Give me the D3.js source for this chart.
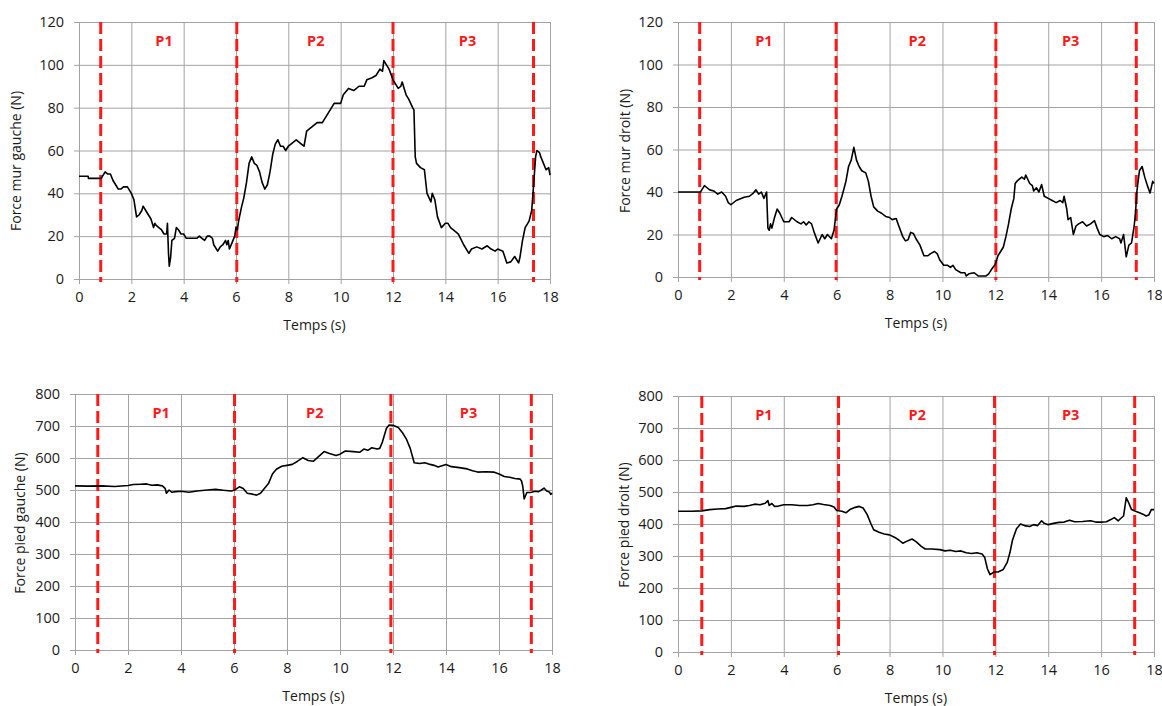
<!DOCTYPE html>
<html>
<head>
<meta charset="utf-8">
<script src="https://cdn.jsdelivr.net/npm/d3@7"></script>
<style>
  body { margin: 0; background: #fff; }
  svg { display: block; font-family: "Open Sans", sans-serif; }
</style>
</head>
<body>
<div id="chart"></div>
<script>
var W = 1162, H = 706;

// values: [time (s), force (N)]
var murGauche = [[0,48],[0.35,48],[0.36,47],[0.85,47],[0.9,48],[1.0,50],[1.1,49],[1.2,49],[1.3,46],[1.4,44],[1.5,42],[1.6,42],[1.7,43],[1.85,43],[2.0,40],[2.1,37],[2.2,29],[2.3,30],[2.4,32],[2.45,34],[2.55,32],[2.65,30],[2.75,28],[2.85,24],[2.9,26],[2.95,25],[3.05,24],[3.15,23],[3.25,21],[3.35,21],[3.38,26],[3.42,12],[3.45,6],[3.5,10],[3.55,18],[3.65,19],[3.72,24],[3.8,23],[3.9,21],[4.0,21],[4.1,19],[4.5,19],[4.6,20],[4.7,19],[4.8,18],[4.9,20],[5.0,20],[5.1,19],[5.15,16],[5.3,13],[5.4,15],[5.5,16],[5.6,18],[5.65,16],[5.7,18],[5.75,14],[5.85,17],[5.95,20],[6.0,24],[6.05,23],[6.1,27],[6.2,33],[6.3,38],[6.4,45],[6.5,54],[6.6,57],[6.7,54],[6.8,53],[6.9,50],[7.0,45],[7.1,42],[7.2,44],[7.3,50],[7.4,58],[7.5,63],[7.6,65],[7.7,62],[7.8,62],[7.9,60],[8.0,62],[8.1,63],[8.3,65],[8.5,63],[8.6,62],[8.7,69],[8.9,71],[9.1,73],[9.3,73],[9.4,75],[9.6,79],[9.75,82],[10.0,82],[10.1,86],[10.3,89],[10.5,88],[10.7,90],[10.9,90],[11.0,93],[11.2,94],[11.35,95],[11.5,98],[11.6,97],[11.65,102],[11.75,100],[11.85,98],[12.0,93],[12.1,91],[12.2,89],[12.3,90],[12.35,92],[12.5,86],[12.6,84],[12.75,80],[12.8,79],[12.85,57],[12.9,54],[13.05,52],[13.2,51],[13.3,40],[13.45,36],[13.5,40],[13.6,37],[13.7,29],[13.85,24],[14.0,26],[14.1,26],[14.2,24],[14.4,22],[14.5,21],[14.7,16],[14.9,12],[15.0,14],[15.2,15],[15.4,14],[15.6,15.5],[15.75,14],[15.9,13],[16.0,14],[16.2,13],[16.35,7.5],[16.5,8],[16.65,10.5],[16.8,7.5],[16.85,10],[16.95,18],[17.05,24],[17.2,27],[17.3,32],[17.35,40],[17.45,57],[17.5,60],[17.6,59],[17.65,57],[17.75,54],[17.85,51],[17.95,52],[18.0,48.5]];

var murDroit = [[0,40],[0.85,40],[0.9,41],[1.0,43],[1.1,42],[1.2,41],[1.35,40.5],[1.5,39],[1.65,40],[1.8,38],[1.9,35],[2.0,34],[2.2,36],[2.5,37.5],[2.7,38],[2.85,39.5],[2.95,41],[3.05,39],[3.15,40],[3.25,37],[3.35,40],[3.4,23],[3.45,22],[3.5,25],[3.55,23],[3.65,28],[3.75,32],[3.85,30],[4.0,26],[4.2,26],[4.3,28],[4.5,26],[4.65,25],[4.75,26],[4.85,24.5],[4.95,26],[5.05,25],[5.15,21],[5.3,16],[5.45,20],[5.55,18],[5.65,20],[5.8,18],[5.9,22],[6.0,32],[6.1,34],[6.2,38],[6.35,45],[6.45,52],[6.55,55],[6.65,61],[6.75,55],[6.85,52],[6.95,50],[7.1,49],[7.2,45],[7.3,38],[7.4,33],[7.55,31],[7.7,30],[7.85,28.5],[8.0,28],[8.1,27],[8.25,27.5],[8.35,24],[8.5,19],[8.6,17],[8.7,17.5],[8.8,21],[8.9,20.5],[9.0,18],[9.15,15],[9.3,10],[9.45,10],[9.55,11],[9.7,12],[9.8,11],[9.9,8],[10.05,5.5],[10.2,5.5],[10.3,4.5],[10.4,5.5],[10.5,3.5],[10.7,2],[10.85,2],[10.9,0.5],[11.0,1.5],[11.2,2],[11.35,0.5],[11.5,0.5],[11.65,0.5],[11.75,1.5],[11.85,3.5],[12.0,6],[12.1,10],[12.2,12],[12.3,14],[12.4,19],[12.5,25],[12.6,32],[12.7,37],[12.75,44],[12.85,45.5],[13.0,47],[13.1,46],[13.15,48],[13.3,44],[13.4,43],[13.45,40.5],[13.55,42],[13.65,40],[13.75,43.5],[13.85,38],[14.0,37],[14.15,36],[14.3,35],[14.45,36],[14.55,35],[14.6,38],[14.7,32],[14.75,27],[14.85,28],[14.95,20],[15.05,24],[15.15,25],[15.3,26],[15.45,24],[15.6,25],[15.75,26.5],[15.85,23],[15.95,20],[16.1,19],[16.25,19.5],[16.4,18],[16.55,19],[16.7,18],[16.75,16],[16.85,20],[16.95,9.5],[17.05,15],[17.15,16],[17.25,24],[17.3,30],[17.35,40],[17.45,50],[17.55,52],[17.65,47],[17.75,43],[17.85,39.5],[17.95,45],[18.0,44]];

var piedGauche = [[0,513],[0.5,512],[1.0,513],[1.5,511],[2.0,514],[2.2,517],[2.5,518],[2.7,519],[2.9,515],[3.1,516],[3.3,513],[3.4,505],[3.45,490],[3.55,500],[3.65,493],[3.8,495],[4.0,496],[4.3,493],[4.6,497],[5.0,500],[5.3,502],[5.6,499],[5.9,497],[6.0,499],[6.2,510],[6.35,505],[6.5,490],[6.7,487],[6.85,484],[7.0,490],[7.1,500],[7.3,520],[7.45,550],[7.6,565],[7.8,574],[8.0,577],[8.2,580],[8.4,590],[8.6,601],[8.8,592],[9.0,590],[9.2,605],[9.4,620],[9.6,614],[9.85,608],[10.0,612],[10.2,622],[10.5,620],[10.75,618],[10.9,628],[11.05,624],[11.2,632],[11.4,628],[11.5,630],[11.6,650],[11.75,692],[11.85,703],[12.0,702],[12.2,695],[12.35,680],[12.5,660],[12.65,630],[12.8,585],[13.0,583],[13.2,585],[13.4,580],[13.55,577],[13.7,572],[13.85,576],[14.0,580],[14.2,573],[14.5,570],[14.8,566],[15.0,560],[15.2,556],[15.5,557],[15.8,556],[16.0,550],[16.2,542],[16.4,540],[16.6,536],[16.8,534],[16.85,528],[16.9,510],[16.95,472],[17.05,492],[17.2,492],[17.35,496],[17.5,495],[17.6,500],[17.7,506],[17.8,497],[17.9,494],[17.95,486],[18.0,490]];

var piedDroit = [[0,440],[0.5,440],[0.9,441],[1.2,445],[1.5,447],[1.8,448],[2.0,452],[2.2,456],[2.5,455],[2.7,458],[2.9,462],[3.1,460],[3.3,465],[3.4,473],[3.45,458],[3.55,464],[3.65,455],[3.8,456],[4.0,460],[4.3,460],[4.6,458],[4.9,458],[5.1,460],[5.3,464],[5.5,461],[5.75,458],[5.9,453],[6.0,442],[6.2,440],[6.35,435],[6.5,445],[6.7,452],[6.85,455],[7.0,450],[7.15,430],[7.3,400],[7.4,382],[7.6,374],[7.8,369],[8.0,366],[8.2,358],[8.35,350],[8.5,340],[8.7,348],[8.85,353],[9.0,345],[9.2,330],[9.35,322],[9.6,322],[9.9,320],[10.1,316],[10.3,318],[10.5,314],[10.7,316],[10.9,310],[11.1,308],[11.3,310],[11.5,306],[11.6,295],[11.7,260],[11.8,242],[11.95,250],[12.1,250],[12.3,258],[12.45,280],[12.55,310],[12.65,350],[12.8,385],[12.95,400],[13.1,395],[13.3,392],[13.45,398],[13.6,395],[13.75,410],[13.85,402],[14.0,398],[14.2,402],[14.4,405],[14.6,406],[14.8,412],[15.0,407],[15.3,408],[15.6,410],[15.8,406],[16.0,406],[16.2,407],[16.35,413],[16.5,420],[16.65,410],[16.75,418],[16.85,425],[16.95,482],[17.05,465],[17.15,445],[17.3,440],[17.45,435],[17.6,430],[17.7,425],[17.8,428],[17.9,445],[18.0,445]];

// phase boundaries (s) per chart
var phasesMurGauche = [0.83, 6.03, 12.0, 17.37];
var phasesMurDroit = [0.82, 5.98, 12.02, 17.33];
var phasesPiedGauche = [0.86, 6.02, 11.92, 17.22];
var phasesPiedDroit = [0.9, 6.07, 11.97, 17.27];

var phaseLabels = ["P1", "P2", "P3"];
var phaseLabelTimes = [3.25, 9.05, 14.85];

var yTitles = ["Force mur gauche (N)", "Force mur droit (N)", "Force pied gauche (N)", "Force pied droit (N)"];
var xTitle = "Temps (s)";
var xTicks = [0, 2, 4, 6, 8, 10, 12, 14, 16, 18];
var yTicksMur = [0, 20, 40, 60, 80, 100, 120];
var yTicksPied = [0, 100, 200, 300, 400, 500, 600, 700, 800];
var labelValueMur = 111;
var labelValuePied = 740;

// layout of the four plot areas
var panels = [
    { data: murGauche, phases: phasesMurGauche, title: yTitles[0], ticks: yTicksMur, labelAt: labelValueMur, x0: 79, x1: 550, y0: 22, y1: 279, titleX: 16, titleY: 161 },
    { data: murDroit, phases: phasesMurDroit, title: yTitles[1], ticks: yTicksMur, labelAt: labelValueMur, x0: 678, x1: 1154, y0: 22, y1: 277, titleX: 625, titleY: 151 },
    { data: piedGauche, phases: phasesPiedGauche, title: yTitles[2], ticks: yTicksPied, labelAt: labelValuePied, x0: 75, x1: 552, y0: 394, y1: 650, titleX: 20, titleY: 523 },
    { data: piedDroit, phases: phasesPiedDroit, title: yTitles[3], ticks: yTicksPied, labelAt: labelValuePied, x0: 678, x1: 1154, y0: 396, y1: 652, titleX: 624, titleY: 525 }
];

var svg = d3.select("#chart").append("svg")
    .attr("width", W)
    .attr("height", H);

panels.forEach(drawPanel);

function drawPanel(p) {
    var x = d3.scaleLinear().domain([0, 18]).range([p.x0, p.x1]);
    var y = d3.scaleLinear().domain([0, d3.max(p.ticks)]).range([p.y1, p.y0]);
    var g = svg.append("g");

    // grid
    g.append("g")
        .attr("transform", "translate(0," + p.y1 + ")")
        .call(d3.axisBottom(x).tickValues(xTicks).tickSize(-(p.y1 - p.y0)).tickFormat(""))
        .call(styleGrid);
    g.append("g")
        .attr("transform", "translate(" + p.x0 + ",0)")
        .call(d3.axisLeft(y).tickValues(p.ticks).tickSize(-(p.x1 - p.x0)).tickFormat(""))
        .call(styleGrid);

    // axes with outward ticks
    g.append("g")
        .attr("transform", "translate(0," + p.y1 + ")")
        .call(d3.axisBottom(x).tickValues(xTicks).tickSize(5).tickSizeOuter(0).tickPadding(8))
        .call(styleAxis);
    g.append("g")
        .attr("transform", "translate(" + p.x0 + ",0)")
        .call(d3.axisLeft(y).tickValues(p.ticks).tickSize(5).tickSizeOuter(0).tickPadding(10))
        .call(styleAxis);

    // phase boundaries
    g.selectAll(".phase")
        .data(p.phases)
        .enter().append("line")
        .attr("x1", function (d) { return x(d); })
        .attr("x2", function (d) { return x(d); })
        .attr("y1", p.y0)
        .attr("y2", p.y1 + 3)
        .attr("stroke", "#ff1a1a")
        .attr("stroke-width", 3)
        .attr("stroke-dasharray", "12,5");

    // phase labels
    g.selectAll(".plabel")
        .data(phaseLabels)
        .enter().append("text")
        .attr("x", function (d, i) { return x(phaseLabelTimes[i]); })
        .attr("y", y(p.labelAt))
        .attr("dy", "0.35em")
        .attr("text-anchor", "middle")
        .attr("fill", "#ff1a1a")
        .attr("font-weight", "bold")
        .attr("font-size", "14.5px")
        .text(function (d) { return d; });

    // series
    var line = d3.line()
        .x(function (d) { return x(d[0]); })
        .y(function (d) { return y(d[1]); });
    g.append("path")
        .datum(p.data)
        .attr("fill", "none")
        .attr("stroke", "#000")
        .attr("stroke-width", 1.6)
        .attr("stroke-linejoin", "round")
        .attr("d", line);

    // titles
    g.append("text")
        .attr("x", (p.x0 + p.x1) / 2)
        .attr("y", p.y1 + 46)
        .attr("dy", "0.35em")
        .attr("text-anchor", "middle")
        .attr("font-size", "14px")
        .attr("fill", "#1a1a1a")
        .text(xTitle);
    g.append("text")
        .attr("transform", "translate(" + p.titleX + "," + p.titleY + ") rotate(-90)")
        .attr("dy", "0.35em")
        .attr("text-anchor", "middle")
        .attr("font-size", "14px")
        .attr("fill", "#1a1a1a")
        .text(p.title);
}

function styleGrid(sel) {
    sel.select(".domain").remove();
    sel.selectAll(".tick line").attr("stroke", "#a3a3a3").attr("stroke-width", 1);
}

function styleAxis(sel) {
    sel.select(".domain").attr("stroke", "#a3a3a3");
    sel.selectAll(".tick line").attr("stroke", "#a3a3a3");
    sel.selectAll(".tick text")
        .attr("font-size", "14.5px")
        .attr("font-family", "'Open Sans', sans-serif")
        .attr("fill", "#1a1a1a");
}
</script>
</body>
</html>
